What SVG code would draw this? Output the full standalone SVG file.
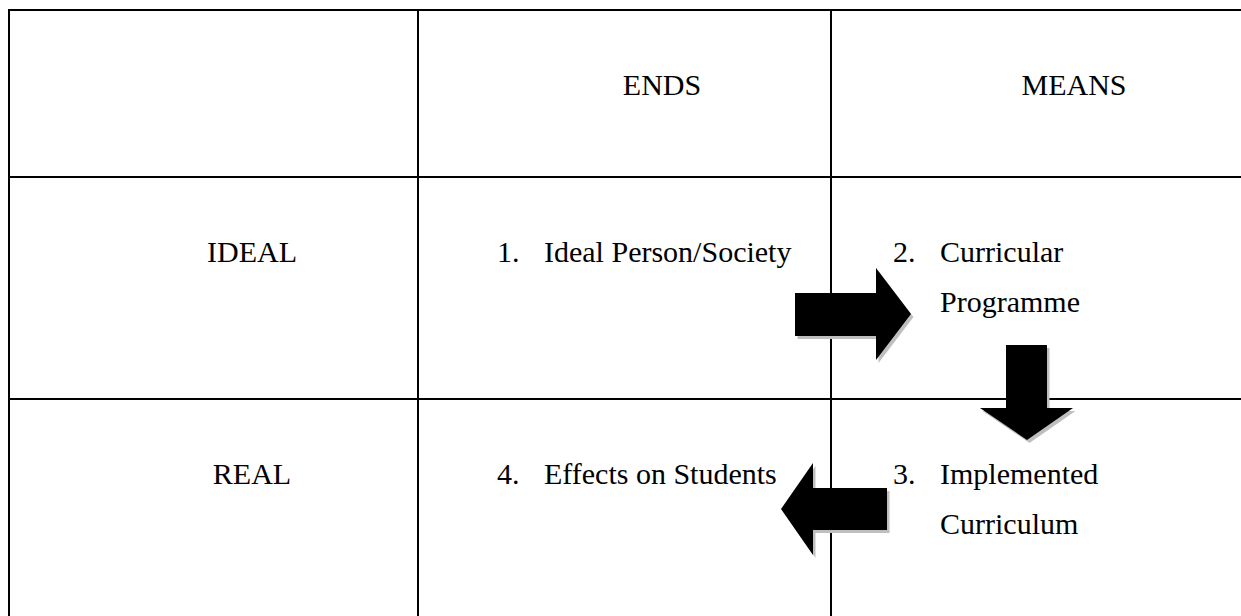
<svg xmlns="http://www.w3.org/2000/svg" width="1241" height="616" viewBox="0 0 1241 616">
  <style>
    .grid { stroke: #000; stroke-width: 2; fill: none; }
    .t { font-family: "Liberation Serif", "Times New Roman", serif; font-size: 30px; fill: #000; }
    .mid { text-anchor: middle; }
    .arrow { fill: #000; }
    .shadow { fill: #bfbfbf; }
  </style>
  <defs>
    <polygon id="arrow-right" points="795,293 876,293 876,268 911,314 876,360 876,336 795,336"/>
    <polygon id="arrow-down" points="1006,345 1047,345 1047,408 1073,408 1027,440 980,408 1006,408"/>
    <polygon id="arrow-left" points="887,488 813,488 813,463 781,509 813,555 813,530 887,530"/>
  </defs>
  <rect width="1241" height="616" fill="#fff"/>

  <!-- table grid -->
  <g id="grid" class="grid">
    <line x1="8" y1="10" x2="1241" y2="10"/>
    <line x1="8" y1="177" x2="1241" y2="177"/>
    <line x1="8" y1="399" x2="1241" y2="399"/>
    <line x1="9" y1="9" x2="9" y2="616"/>
    <line x1="418" y1="9" x2="418" y2="616"/>
    <line x1="831" y1="9" x2="831" y2="616"/>
  </g>

  <!-- column and row headers -->
  <g id="header-ends"><text class="t mid" x="662" y="95">ENDS</text></g>
  <g id="header-means"><text class="t mid" x="1074" y="95">MEANS</text></g>
  <g id="header-ideal"><text class="t mid" x="252" y="262">IDEAL</text></g>
  <g id="header-real"><text class="t mid" x="252" y="484">REAL</text></g>

  <!-- cells -->
  <g id="node-1">
    <text class="t" x="497" y="262">1.</text>
    <text class="t" x="544" y="262">Ideal Person/Society</text>
  </g>
  <g id="node-2">
    <text class="t" x="893" y="262">2.</text>
    <text class="t" x="940" y="262">Curricular</text>
    <text class="t" x="940" y="312">Programme</text>
  </g>
  <g id="node-3">
    <text class="t" x="893" y="484">3.</text>
    <text class="t" x="940" y="484">Implemented</text>
    <text class="t" x="940" y="534">Curriculum</text>
  </g>
  <g id="node-4">
    <text class="t" x="497" y="484">4.</text>
    <text class="t" x="544" y="484">Effects on Students</text>
  </g>

  <!-- block arrows with drop shadows -->
  <g id="connectors">
    <use href="#arrow-right" class="shadow" transform="translate(2.5,3)"/>
    <use href="#arrow-right" class="arrow"/>
    <use href="#arrow-down" class="shadow" transform="translate(2.5,3)"/>
    <use href="#arrow-down" class="arrow"/>
    <use href="#arrow-left" class="shadow" transform="translate(2.5,3)"/>
    <use href="#arrow-left" class="arrow"/>
  </g>
</svg>
